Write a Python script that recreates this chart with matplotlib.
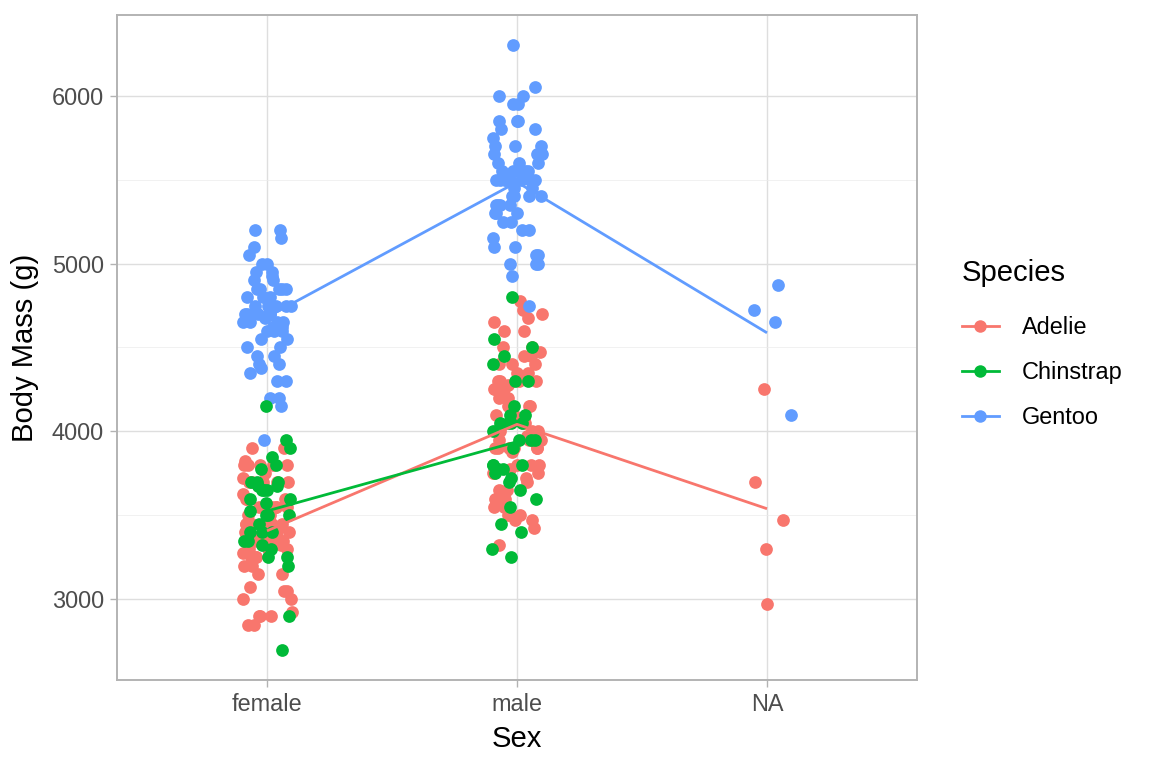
import numpy as np
import matplotlib
matplotlib.use("Agg")
import matplotlib.pyplot as plt
from matplotlib.lines import Line2D

plt.rcParams['font.family'] = ['Liberation Sans', 'DejaVu Sans']

# ---------------- data ----------------
sex_levels = ["female", "male", "NA"]
species = ["Adelie", "Chinstrap", "Gentoo"]

adelie_female = [3800, 3450, 3450, 3625, 3400, 3700, 3450, 3325, 3400, 3800,
                 3800, 3550, 3350, 3250, 3300, 3325, 3550, 3300, 3350, 3300,
                 3000, 3450, 3500, 3450, 2900, 3550, 2850, 3150, 3600, 2850,
                 3350, 3250, 3600, 3550, 3700, 3700, 3550, 3200, 3800, 3350,
                 3800, 3900, 3550, 3400, 3300, 3700, 2900, 3725, 3075, 2925,
                 3750, 3375, 3825, 3200, 3900, 2900, 3350, 3150, 3450, 3250,
                 3275, 3050, 3325, 3500, 3425, 3375, 3400, 3400, 3050, 3000,
                 3450, 3700, 3600]
adelie_male = [3750, 3650, 4675, 3800, 4400, 4500, 4200, 3600, 3950, 3800,
               3900, 3900, 4150, 3950, 4650, 3900, 4400, 4600, 3425, 4150,
               4300, 4050, 3700, 3800, 3750, 4400, 4050, 3950, 4100, 4450,
               3900, 4150, 4250, 3900, 4000, 4700, 4200, 3550, 3500, 3600,
               4300, 4450, 4300, 4350, 4100, 4725, 4250, 3550, 3900, 4775,
               4600, 4275, 4075, 3775, 3325, 3500, 3875, 4000, 4300, 4000,
               3500, 4475, 3900, 3975, 4250, 3475, 3725, 3650, 3475, 3750,
               4000, 4350, 4500]
adelie_na = [4250, 3700, 3475, 3300, 2975]

chinstrap_female = [3950, 3900, 3850, 3800, 3775, 3700, 3700, 3700, 3675, 3675,
                    3650, 3650, 3600, 3600, 3575, 3525, 3500, 3500, 3450, 3400,
                    3400, 3400, 3350, 3350, 3325, 3300, 3250, 3250, 3200, 2900,
                    2700, 4150, 3500, 3650]
chinstrap_male = [4800, 4550, 4500, 4450, 4400, 4300, 4300, 4150, 4100, 4100,
                  4050, 4000, 4050, 3950, 3950, 3900, 3950, 3800, 3800, 3800,
                  3775, 3750, 3775, 3725, 3700, 3650, 3600, 3550, 3450, 3400,
                  3300, 3250, 4050, 4050]

gentoo_female = [5200, 5200, 5150, 5100, 5050, 5000, 5000, 4950, 4950, 4925,
                 4900, 4900, 4850, 4850, 4850, 4850, 4800, 4800, 4750, 4750,
                 4750, 4750, 4700, 4700, 4700, 4650, 4650, 4625, 4625, 4600,
                 4550, 4500, 4450, 4450, 4400, 4400, 4375, 4350, 4300, 4300,
                 4200, 4200, 4150, 3950, 4700, 4700, 4700, 4650, 4650, 4600,
                 4600, 4750, 4800, 4850, 4550, 4500, 4625, 4675]
gentoo_male = [6300, 6050, 6000, 6000, 5950, 5950, 5850, 5850, 5850, 5800,
               5800, 5750, 5700, 5700, 5700, 5650, 5650, 5600, 5600, 5550,
               5550, 5550, 5550, 5500, 5500, 5500, 5500, 5450, 5400, 5400,
               5400, 5350, 5350, 5350, 5300, 5300, 5300, 5250, 5250, 5200,
               5200, 5150, 5100, 5100, 5050, 5050, 5000, 5000, 5000, 4925,
               4750, 5500, 5500, 5500, 5500, 5550, 5450, 5600, 5400, 5350,
               5650]
gentoo_na = [4875, 4725, 4650, 4100]

colors = {"Adelie": "#F8766D", "Chinstrap": "#00BA38", "Gentoo": "#619CFF"}

groups = {
    "Adelie": [adelie_female, adelie_male, adelie_na],
    "Gentoo": [gentoo_female, gentoo_male, gentoo_na],
    "Chinstrap": [chinstrap_female, chinstrap_male, []],
}

# horizontal jitter (positions only); NA offsets
na_jitter = {"Adelie": [-0.013, -0.048, 0.064, -0.004, 0.0],
             "Gentoo": [0.043, -0.052, 0.033, 0.096]}
rng = np.random.default_rng(11)

# ---------------- figure ----------------
fig = plt.figure(figsize=(11.52, 7.68), dpi=100)
ax = fig.add_axes([117 / 1152, 1 - 680 / 768, 800 / 1152, 665 / 768])

# draw points in dataset order: Adelie, Gentoo, Chinstrap
for sp in ["Adelie", "Gentoo", "Chinstrap"]:
    for i, vals in enumerate(groups[sp]):
        if len(vals) == 0:
            continue
        if i == 2:
            off = np.array(na_jitter[sp])
        else:
            off = rng.uniform(-0.1, 0.1, len(vals))
        ax.scatter(i + off, vals, s=84, color=colors[sp], linewidths=0,
                   zorder=3)

# mean lines
handles = []
for sp in species:
    xs, ms = [], []
    for i, vals in enumerate(groups[sp]):
        if len(vals):
            xs.append(i)
            ms.append(np.mean(vals))
    ax.plot(xs, ms, color=colors[sp], lw=2.0, zorder=4, solid_capstyle='butt')
    handles.append(Line2D([], [], color=colors[sp], lw=2.0, marker='o',
                          markersize=9, markeredgewidth=0))

ax.set_xlim(-0.6, 2.6)
ax.set_ylim(2520, 6480)
ax.set_xticks(range(len(sex_levels)))
ax.set_xticklabels(sex_levels)
ax.set_yticks([3000, 4000, 5000, 6000])
ax.set_yticks([3500, 4500, 5500], minor=True)

ax.grid(True, which='major', color='#DEDEDE', lw=1.0, zorder=0)
ax.grid(True, which='minor', axis='y', color='#EBEBEB', lw=0.5, zorder=0)
ax.set_axisbelow(True)
for s in ax.spines.values():
    s.set_color('#B3B3B3')
    s.set_linewidth(1.4)

ax.tick_params(which='major', length=5.3, width=1.0, color='#B3B3B3',
               labelsize=16.9, labelcolor='#4D4D4D', pad=4)
ax.tick_params(which='minor', length=0)

ax.set_xlabel("Sex", fontsize=21.1, color='black', labelpad=6.5)
ax.set_ylabel("Body Mass (g)", fontsize=21.1, color='black', labelpad=9)

leg = fig.legend(handles, species, title="Species", loc='center left',
                 bbox_to_anchor=(941 / 1152, 1 - 344 / 768), frameon=False,
                 fontsize=16.9, title_fontsize=21.1, handlelength=1.55,
                 handletextpad=1.0, labelspacing=0.93, alignment='left')
leg._legend_box.sep = 0.93 * 16.9 + 5

fig.savefig("out.png", dpi=100)
